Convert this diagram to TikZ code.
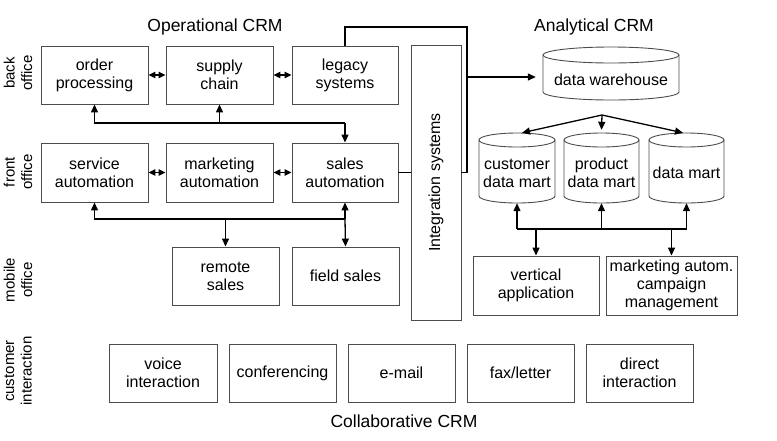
\documentclass[tikz,border=0pt]{standalone}
\usepackage{fontspec}
\setmainfont{Liberation Sans}
\usetikzlibrary{arrows.meta}
\newcommand\boxfont{\fontsize{16}{18}\selectfont}
\newcommand\ttlfont{\fontsize{17.5}{20}\selectfont}
\newcommand\sidefont{\fontsize{15}{17.5}\selectfont}
\tikzset{
  box/.style={draw=black!70, line width=0.9pt, align=center, font=\boxfont, inner sep=1pt,
              minimum width=107pt, minimum height=58pt},
  cylline/.style={draw=black!70, line width=0.9pt},
  cyltext/.style={align=center, font=\boxfont, inner sep=0pt},
  conn/.style={line width=1.3pt, black},
  arr/.style={conn, -{Triangle[length=8pt,width=7pt]}},
  darr/.style={conn, {Triangle[length=7pt,width=6.5pt]}-{Triangle[length=7pt,width=6.5pt]}},
  ttl/.style={font=\ttlfont},
  side/.style={font=\sidefont, rotate=90, align=center},
}
\newcommand\mycyl[7]{% name, cx, top, bot, rx, ry, text
  \draw[cylline] (#2,#3+#6) ellipse [x radius=#5, y radius=#6];
  \draw[cylline] (#2-#5,#3+#6) -- (#2-#5,#4-#6) arc[start angle=180,end angle=0,x radius=#5,y radius=#6] -- (#2+#5,#3+#6);
  \node[cyltext, minimum width={2*#5}, minimum height={#4-#3-1.5*#6}] (#1) at (#2,{(#3+#4)/2+0.75*#6}) {#7};
}
\begin{document}
\begin{tikzpicture}[x=1pt,y=-1pt]
\useasboundingbox (0,0) rectangle (777,440);

% titles
\node[ttl] (topcrm) at (215,27) {Operational CRM};
\node[ttl] (anacrm) at (594,27) {Analytical CRM};
\node[ttl] (colcrm) at (404,421) {Collaborative CRM};

% side labels
\node[side] (lback) at (18,73) {back\\office};
\node[side] (lfront) at (18,172) {front\\office};
\node[side] (lmobile) at (18,280) {mobile\\office};
\node[side] (lcust) at (18,371) {customer\\interaction};

% operational boxes
\node[box] (op) at (94.5,75) {order\\processing};
\node[box] (sc) at (219.5,75) {supply\\chain};
\node[box, minimum width=106pt] (leg) at (345,75) {legacy\\systems};
\node[box, minimum height=59pt] (sa) at (94.5,172.5) {service\\automation};
\node[box, minimum height=59pt] (ma) at (219.5,172.5) {marketing\\automation};
\node[box, minimum height=59pt, minimum width=106pt] (sla) at (345,172.5) {sales\\automation};
\node[box] (rs) at (225.5,276) {remote\\sales};
\node[box] (fs) at (345.5,276) {field sales};

% integration
\node[box, minimum width=50pt, minimum height=275pt] (integ) at (436,182.5) {};
\node[font=\boxfont, rotate=90] (integt) at (integ.center) {Integration systems};

% analytical
\mycyl{wh}{611}{47}{100}{68}{8}{data warehouse}
\mycyl{cust}{517}{133}{203}{38}{7}{customer\\data mart}
\mycyl{prod}{601.5}{133}{203}{37.5}{7}{product\\data mart}
\mycyl{dm}{686.5}{133}{203}{37.5}{7}{data mart}
\node[box, minimum width=126pt, minimum height=59pt] (va) at (536,285.5) {vertical\\application};
\node[box, minimum width=131pt, minimum height=59pt] (mac) at (671.5,285.5) {marketing autom.\\campaign\\management};

% collaborative
\node[box, minimum width=108pt] (vi) at (163,373) {voice\\interaction};
\node[box] (cf) at (282.5,373) {conferencing};
\node[box] (em) at (401.5,373) {e-mail};
\node[box] (fx) at (520.5,373) {fax/letter};
\node[box] (di) at (639.5,373) {direct\\interaction};

% horizontal double arrows
\draw[darr] (op.east) -- (sc.west);
\draw[darr] (sc.east) -- (leg.west);
\draw[darr] (sa.east) -- (ma.west);
\draw[darr] (ma.east) -- (sla.west);

% back/front
\coordinate (bf) at (345,123);
\draw[arr] (bf) -| (op.south);
\draw[arr] (sc.south |- bf) -- (sc.south);
\draw[arr] (bf) -- (sla.north);

% front/mobile
\coordinate (fm) at (345,219);
\draw[arr] (fm) -| (sa.south);
\draw[arr] (rs.north |- fm) -- (rs.north);
\draw[arr] (fm) -- (sla.south);
\draw[arr] (fm) -- (fs.north);

% integration connections
\coordinate (br) at (467,27);
\draw[conn] (leg.north) |- (br) -- (br |- sla.east) -- (integ.east |- sla.east);
\draw[conn] (sla.east) -- (integ.west |- sla.east);
\draw[arr] (br |- 0,77) -- ([xshift=-7pt]wh.west |- 0,77);

% warehouse to marts
\coordinate (fan) at (602,115);
\draw[arr] (fan) -- ([xshift=5pt,yshift=10.5pt]cust.north);
\draw[arr] (fan) -- ([yshift=13.5pt]prod.north);
\draw[arr] (fan) -- ([xshift=-3.5pt,yshift=10.5pt]dm.north);

% marts to applications
\coordinate (am) at (601.5,229);
\draw[conn] (cust.south |- am) -- (dm.south |- am);
\draw[arr] (cust.south |- am) -- (cust.south);
\draw[arr] (am) -- (prod.south);
\draw[arr] (dm.south |- am) -- (dm.south);
\draw[arr] (va.north |- am) -- (va.north);
\draw[arr] (mac.north |- am) -- (mac.north);
\end{tikzpicture}
\end{document}
